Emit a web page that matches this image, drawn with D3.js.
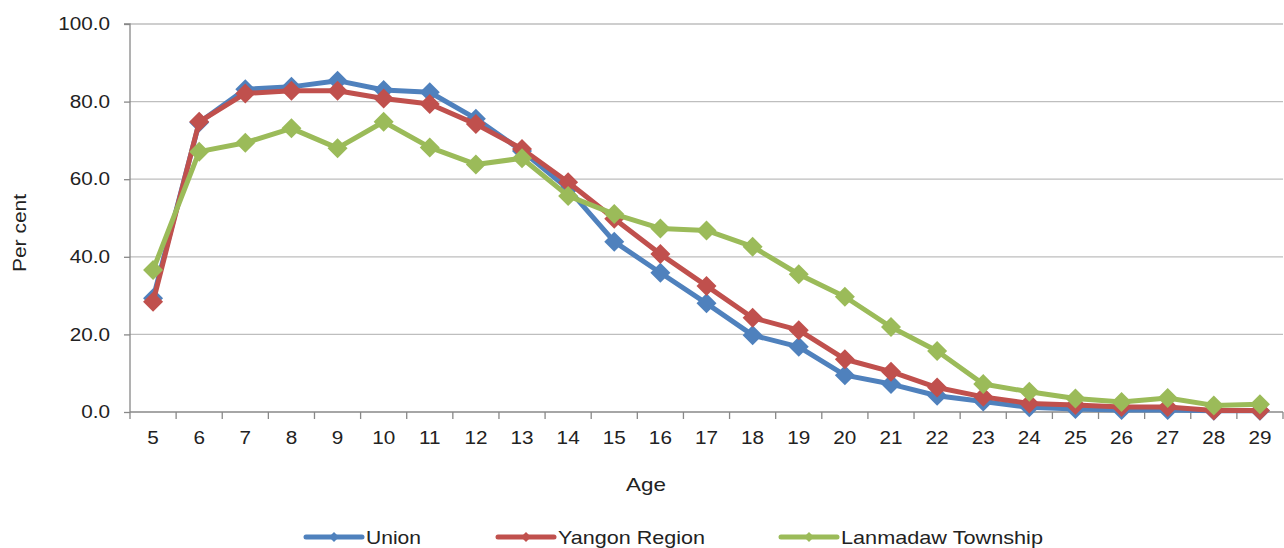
<!DOCTYPE html>
<html><head><meta charset="utf-8">
<script src="https://cdn.jsdelivr.net/npm/d3@7"></script>
<style>body{margin:0;background:#fff}svg{display:block}text{font-family:"Liberation Sans",Arial,sans-serif;fill:#222}</style>
</head><body><svg id="c" width="1284" height="548"></svg>
<script>
const ages = [5,6,7,8,9,10,11,12,13,14,15,16,17,18,19,20,21,22,23,24,25,26,27,28,29];
const union = [29.3,74.6,83.2,83.8,85.4,83.0,82.4,75.6,67.3,57.5,43.9,35.9,28.0,19.8,16.8,9.5,7.2,4.2,2.7,1.2,0.8,0.5,0.5,0.3,0.3];
const yangon = [28.4,74.8,82.1,82.8,82.8,80.8,79.4,74.2,67.8,59.2,49.8,40.7,32.5,24.3,21.1,13.6,10.4,6.3,3.9,2.2,1.8,1.3,1.3,0.4,0.4];
const lanmadaw = [36.6,67.1,69.4,73.1,68.0,74.8,68.2,63.8,65.4,55.7,51.0,47.3,46.8,42.6,35.5,29.7,21.9,15.7,7.2,5.2,3.5,2.6,3.6,1.7,2.0];
const yTicks = [0,20,40,60,80,100];
const seriesNames = ["Union","Yangon Region","Lanmadaw Township"];
const colors = ["#4F81BD","#C0504D","#9BBB59"];
const series = [union,yangon,lanmadaw];

const svg = d3.select("#c");
const L=130,R=1283,T=24,B=412;
const x = d3.scaleBand().domain(ages).range([L,R]);
const y = d3.scaleLinear().domain([0,100]).range([B,T]);
const FONT = "Liberation Sans, Arial, sans-serif";
function stretch(sel,f){ sel.each(function(){ const w=this.getComputedTextLength(); d3.select(this).attr("textLength",w*f).attr("lengthAdjust","spacingAndGlyphs"); }); }

// gridlines
svg.append("g").selectAll("line").data(yTicks.filter(d=>d>0)).join("line")
 .attr("x1",L).attr("x2",R).attr("y1",d=>y(d)).attr("y2",d=>y(d))
 .attr("stroke","#BEBEBE").attr("stroke-width",1.3);

// y axis
const ya = svg.append("g").attr("transform",`translate(${L},0)`)
 .call(d3.axisLeft(y).tickValues(yTicks).tickFormat(d3.format(".1f")).tickSize(6).tickPadding(14));
ya.select(".domain").attr("stroke","#888").attr("stroke-width",1.3).attr("d",`M-6,${T}H0V${B}`);
ya.selectAll(".tick line").attr("stroke","#888").attr("stroke-width",1.3);
ya.selectAll(".tick text").attr("font-size",18).attr("fill","#222").attr("font-family",FONT).call(stretch,1.15);

// x axis
const xa = svg.append("g").attr("transform",`translate(0,${B})`)
 .call(d3.axisBottom(x).tickSize(0).tickPadding(19));
xa.select(".domain").attr("stroke","#888").attr("stroke-width",1.3).attr("d",`M${L},0H${R}`);
xa.selectAll(".tick text").attr("font-size",18).attr("fill","#222").attr("font-family",FONT).call(stretch,1.15);
// category boundary ticks
svg.append("g").selectAll("line").data(ages).join("line")
 .attr("x1",d=>x(d)).attr("x2",d=>x(d)).attr("y1",B).attr("y2",B+7)
 .attr("stroke","#888").attr("stroke-width",1.3);
svg.append("line").attr("x1",R).attr("x2",R).attr("y1",B).attr("y2",B+7).attr("stroke","#888").attr("stroke-width",1.3);

// axis titles
svg.append("text").attr("x",646).attr("y",491).attr("text-anchor","middle").attr("font-size",19).text("Age").call(stretch,1.18);
svg.append("text").attr("transform","translate(26,233) rotate(-90)").attr("text-anchor","middle").attr("font-size",19).attr("textLength",78).attr("lengthAdjust","spacingAndGlyphs").text("Per cent");

const cx = d=>x(d)+x.bandwidth()/2;
const diamondPath = (s)=>`M0,${-s}L${s},0L0,${s}L${-s},0Z`;

series.forEach((vals,i)=>{
  const g = svg.append("g");
  const line = d3.line().x((d,j)=>cx(ages[j])).y(d=>y(d));
  g.append("path").attr("d",line(vals)).attr("fill","none").attr("stroke",colors[i])
   .attr("stroke-width",5).attr("stroke-linejoin","round");
  g.selectAll("path.m").data(vals).join("path").attr("class","m")
   .attr("transform",(d,j)=>`translate(${cx(ages[j])},${y(d)})`)
   .attr("d",diamondPath(10)).attr("fill",colors[i]);
});

// legend
const legX = [306,498,781];
const legW = [55,147,202];
seriesNames.forEach((n,i)=>{
  const g = svg.append("g").attr("transform",`translate(${legX[i]},537)`);
  g.append("line").attr("x1",0).attr("x2",56).attr("stroke",colors[i]).attr("stroke-width",5).attr("stroke-linecap","round");
  g.append("path").attr("d",diamondPath(5)).attr("transform","translate(28,0)").attr("fill",colors[i]);
  g.append("text").attr("x",60).attr("y",7).attr("font-size",19)
   .attr("textLength",legW[i]).attr("lengthAdjust","spacingAndGlyphs").text(n);
});
</script></body></html>
